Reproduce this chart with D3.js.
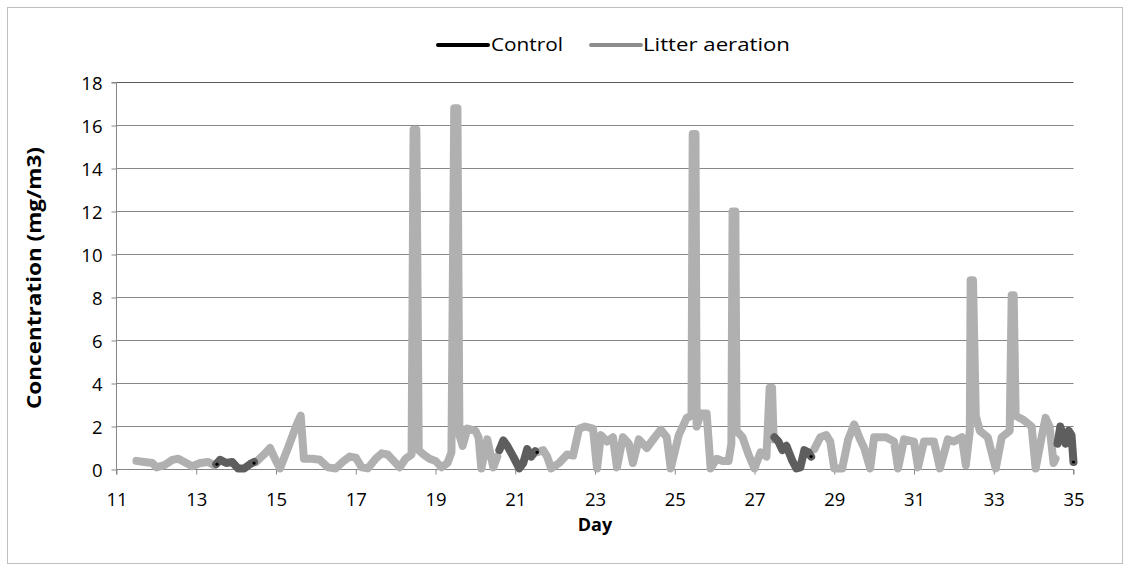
<!DOCTYPE html>
<html><head><meta charset="utf-8">
<script src="https://cdn.jsdelivr.net/npm/d3@7"></script>
<style>body{margin:0;background:#fff}svg{display:block}text{font-family:"Open Sans","Noto Sans",sans-serif;fill:#000}</style>
</head><body><svg id="c" width="1131" height="571"></svg>
<script>
const xTicks=[11,13,15,17,19,21,23,25,27,29,31,33,35];
const yTicks=[0,2,4,6,8,10,12,14,16,18];
const seriesNames=["Control","Litter aeration"];
// Litter aeration: [day, concentration]; null = gap
const litter=[
[11.5,0.4],[11.7,0.35],[11.9,0.3],[12.0,0.1],[12.2,0.2],[12.4,0.45],[12.55,0.5],[12.7,0.35],[12.9,0.15],[13.1,0.3],[13.3,0.35],[13.45,0.2],null,
[14.5,0.35],[14.7,0.7],[14.85,1.0],[15.0,0.4],[15.1,0.05],[15.3,1.0],[15.5,2.0],[15.62,2.5],[15.7,0.5],[15.9,0.5],[16.1,0.45],[16.3,0.1],[16.5,0.05],[16.7,0.4],[16.85,0.6],[17.0,0.55],[17.15,0.1],[17.3,0.05],[17.5,0.5],[17.65,0.75],[17.8,0.7],[17.95,0.4],[18.1,0.1],[18.25,0.5],[18.4,0.7],[18.45,15.8],[18.52,15.8],[18.58,0.9],[18.7,0.7],[18.85,0.5],[19.0,0.4],[19.15,0.1],[19.3,0.3],[19.4,0.8],[19.47,16.8],[19.55,16.8],[19.6,1.6],[19.68,1.1],[19.8,1.9],[20.0,1.8],[20.08,1.5],[20.15,0.05],[20.3,1.4],[20.45,0.1],[20.55,0.6],null,
[21.55,0.8],[21.7,0.9],[21.8,0.6],[21.9,0.05],[22.1,0.3],[22.3,0.7],[22.45,0.65],[22.6,1.9],[22.75,2.0],[22.95,1.9],[23.05,0.05],[23.15,1.6],[23.3,1.3],[23.45,1.5],[23.55,0.1],[23.7,1.5],[23.85,1.2],[23.95,0.3],[24.1,1.4],[24.3,1.0],[24.5,1.5],[24.65,1.85],[24.8,1.5],[24.9,0.05],[25.1,1.6],[25.3,2.4],[25.42,2.5],[25.45,15.6],[25.52,15.6],[25.55,2.0],[25.65,2.6],[25.8,2.6],[25.9,0.05],[26.05,0.5],[26.2,0.4],[26.35,0.4],[26.42,1.2],[26.45,12.0],[26.52,12.0],[26.55,1.8],[26.7,1.5],[26.85,0.7],[27.0,0.05],[27.15,0.8],[27.3,0.6],[27.38,3.8],[27.44,3.8],[27.48,1.4],null,
[28.5,0.95],[28.65,1.5],[28.8,1.6],[28.9,1.3],[29.0,0.05],[29.2,0.05],[29.35,1.4],[29.5,2.1],[29.65,1.4],[29.75,1.0],[29.9,0.05],[30.0,1.5],[30.3,1.5],[30.5,1.3],[30.6,0.05],[30.75,1.4],[31.0,1.3],[31.1,0.1],[31.25,1.3],[31.5,1.3],[31.65,0.05],[31.85,1.4],[32.0,1.3],[32.2,1.5],[32.3,0.2],[32.4,1.8],[32.42,8.8],[32.48,8.8],[32.55,2.5],[32.65,1.8],[32.85,1.5],[33.05,0.05],[33.2,1.5],[33.4,1.8],[33.45,8.1],[33.5,8.1],[33.55,2.5],[33.75,2.3],[33.95,2.0],[34.05,0.05],[34.2,1.5],[34.3,2.4],[34.4,2.0],[34.5,0.3],[34.55,0.5]
];
// Control (visible segments): [day, concentration]; null = gap
const control=[
[13.5,0.25],[13.6,0.45],[13.75,0.3],[13.9,0.35],[14.05,0.05],[14.2,0.05],[14.35,0.25],[14.45,0.35],null,
[20.6,0.9],[20.7,1.35],[20.8,1.1],[20.95,0.6],[21.1,0.05],[21.2,0.3],[21.3,0.95],[21.4,0.6],[21.5,0.85],null,
[27.5,1.5],[27.6,1.3],[27.7,0.9],[27.8,1.1],[27.95,0.4],[28.05,0.05],[28.15,0.1],[28.25,0.9],[28.35,0.8],[28.42,0.6],null,
[34.6,1.2],[34.67,2.0],[34.74,1.5],[34.8,1.2],[34.88,1.8],[34.95,1.6],[35.0,0.35]
];
const controlDots=[[13.52,0.25],[14.45,0.3],[21.55,0.8],[28.42,0.6],[35.0,0.35]];

const svg=d3.select("#c");
svg.append("rect").attr("x",7.5).attr("y",7.5).attr("width",1115).attr("height",556).attr("fill","#fff").attr("stroke","#bfbfbf").attr("stroke-width",1);
const L=116.5,R=1073.5,T=82.5,B=469.5;
const x=d3.scaleLinear().domain([11,35]).range([L,R]);
const y=d3.scaleLinear().domain([0,18]).range([B,T]);

// gridlines
svg.append("g").selectAll("line").data(yTicks.slice(1)).join("line")
 .attr("x1",L).attr("x2",R).attr("y1",d=>y(d)).attr("y2",d=>y(d))
 .attr("stroke",d=>d===18?"#5a5a5a":"#868686").attr("stroke-width",1);

// axes
const gy=svg.append("g").attr("transform",`translate(${L},0)`)
 .call(d3.axisLeft(y).tickValues(yTicks).tickSize(5).tickPadding(9).tickFormat(d3.format("d")));
const gx=svg.append("g").attr("transform",`translate(0,${B})`)
 .call(d3.axisBottom(x).tickValues(xTicks).tickSize(5).tickPadding(18).tickFormat(d3.format("d")));
[gx,gy].forEach(g=>{g.select(".domain").attr("stroke","#868686");g.selectAll(".tick line").attr("stroke","#868686");
 g.selectAll("text").style("font-size","18.5px").style("font-family","'Open Sans',sans-serif").attr("fill","#000");});
gy.selectAll("text").attr("dy","0.36em");
gx.select(".domain").attr("d",`M${L},5V0H${R}V5`);
gy.select(".domain").attr("d",`M-5,${T}H0V${B}`);

const line=d3.line().defined(d=>d!==null).x(d=>x(d[0])).y(d=>y(d[1])).curve(d3.curveLinear);
const g=svg.append("g");
g.append("path").attr("d",line(litter)).attr("fill","none").attr("stroke","#b0b0b0").attr("stroke-width",8).attr("stroke-linejoin","round").attr("stroke-linecap","round");
g.append("path").attr("d",line(control)).attr("fill","none").attr("stroke","#5e5e5e").attr("stroke-width",8).attr("stroke-linejoin","round").attr("stroke-linecap","round");
g.selectAll("circle").data(controlDots).join("circle").attr("cx",d=>x(d[0])).attr("cy",d=>y(d[1])).attr("r",1.6).attr("fill","#000");

// axis titles
svg.append("text").attr("transform","translate(41,278) rotate(-90)").attr("text-anchor","middle")
 .style("font-size","20px").style("font-weight","bold").attr("textLength",262).attr("lengthAdjust","spacingAndGlyphs").text("Concentration (mg/m3)");
svg.append("text").attr("x",595).attr("y",531).attr("text-anchor","middle").style("font-size","18px").style("font-weight","bold").text("Day");

// legend
const leg=[{n:seriesNames[0],c:"#000",lx:438,tx:491,w:72},{n:seriesNames[1],c:"#8c8c8c",lx:591,tx:643,w:147}];
leg.forEach(l=>{
 svg.append("line").attr("x1",l.lx).attr("x2",l.lx+50).attr("y1",45).attr("y2",45).attr("stroke",l.c).attr("stroke-width",4).attr("stroke-linecap","round");
 svg.append("text").attr("x",l.tx).attr("y",51).style("font-size","18px").attr("textLength",l.w).attr("lengthAdjust","spacingAndGlyphs").text(l.n);
});
</script></body></html>
